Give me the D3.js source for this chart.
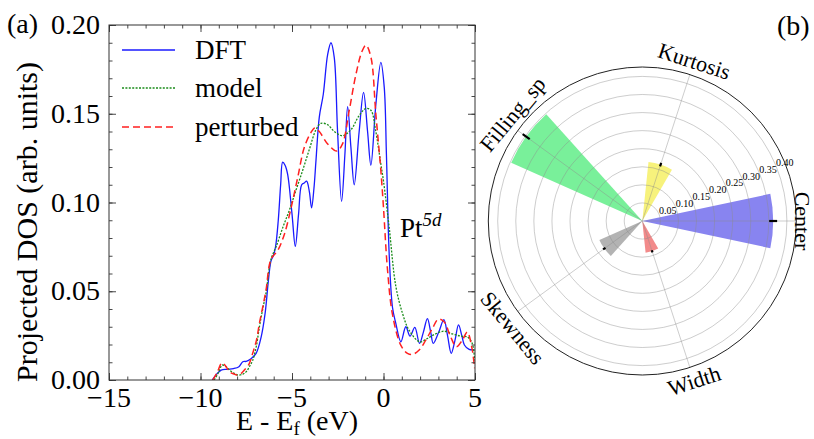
<!DOCTYPE html>
<html>
<head>
<meta charset="utf-8">
<script src="https://cdn.jsdelivr.net/npm/d3@7"></script>
<style>
  html, body { margin: 0; padding: 0; background: #fff; }
  svg text { font-family: "Liberation Serif", "Times New Roman", Times, serif; }
</style>
</head>
<body>
<svg id="fig" width="814" height="439" font-family="Liberation Serif, Times New Roman, serif"></svg>
<script>
// ---- Panel (a): projected DOS of Pt 5d ----
const dftE = [-9.36,-8.87,-8.5,-8.2,-7.9,-7.69,-7.5,-7.24,-6.96,-6.69,-6.47,-6.29,-6.15,-6.02,-5.9,-5.75,-5.62,-5.51,-5.38,-5.24,-5.0,-4.82,-4.64,-4.47,-4.33,-4.2,-4.05,-3.93,-3.8,-3.69,-3.51,-3.29,-3.05,-2.87,-2.69,-2.51,-2.29,-2.11,-1.96,-1.78,-1.6,-1.33,-1.09,-0.87,-0.69,-0.42,-0.145,0.04,0.16,0.31,0.49,0.67,0.95,1.22,1.45,1.71,1.97,2.18,2.4,2.58,2.72,3.02,3.3,3.5,3.7,3.9,4.1,4.28,4.42,4.68,4.98];
const dftDOS = [0,0.0056,0.006,0.0064,0.0075,0.0103,0.0105,0.012,0.015,0.024,0.0375,0.056,0.067,0.070,0.075,0.09,0.11,0.1227,0.121,0.116,0.0936,0.0753,0.0936,0.110,0.111,0.112,0.106,0.097,0.108,0.1236,0.148,0.161,0.1835,0.190,0.1816,0.140,0.1006,0.127,0.154,0.131,0.110,0.140,0.162,0.140,0.121,0.155,0.179,0.165,0.127,0.071,0.041,0.032,0.0215,0.030,0.0247,0.0296,0.0206,0.027,0.0346,0.027,0.0206,0.027,0.034,0.025,0.015,0.022,0.031,0.025,0.0197,0.0172,0.017];

const modelE = [-9.25,-9.0,-8.82,-8.6,-8.42,-8.2,-7.96,-7.7,-7.5,-7.3,-7.15,-6.95,-6.78,-6.6,-6.42,-6.15,-5.87,-5.5,-5.15,-4.78,-4.42,-4.05,-3.69,-3.42,-3.05,-2.69,-2.24,-1.78,-1.33,-0.96,-0.69,-0.42,-0.15,0.0,0.31,0.67,1.04,1.4,1.98,2.4,2.85,3.31,3.76,4.22,4.58,4.85,4.98];
const modelDOS = [0,0.0045,0.0084,0.0075,0.0056,0.004,0.0028,0.0032,0.0047,0.008,0.011,0.019,0.030,0.040,0.049,0.068,0.075,0.086,0.0955,0.107,0.118,0.130,0.141,0.1446,0.1438,0.140,0.1376,0.141,0.149,0.153,0.152,0.140,0.122,0.112,0.086,0.053,0.0375,0.028,0.0215,0.0234,0.026,0.0275,0.026,0.0247,0.0243,0.0206,0.011];

const pertE = [-9.33,-9.1,-8.82,-8.6,-8.42,-8.2,-8.0,-7.8,-7.6,-7.35,-7.15,-6.95,-6.78,-6.6,-6.42,-6.15,-5.78,-5.42,-5.05,-4.69,-4.33,-3.96,-3.75,-3.51,-3.05,-2.55,-2.24,-1.87,-1.51,-1.18,-0.96,-0.69,-0.42,-0.145,0.0,0.22,0.49,0.95,1.31,1.58,1.95,2.31,2.67,3.0,3.31,3.67,3.98,4.31,4.58,4.82,4.98];
const pertDOS = [0,0.004,0.0097,0.0075,0.0047,0.0035,0.0028,0.0035,0.0056,0.009,0.015,0.022,0.032,0.041,0.0506,0.068,0.073,0.082,0.097,0.114,0.131,0.1395,0.142,0.140,0.133,0.129,0.133,0.152,0.172,0.185,0.1886,0.182,0.150,0.118,0.097,0.062,0.037,0.0195,0.015,0.0144,0.0169,0.0225,0.029,0.0343,0.0328,0.0243,0.0187,0.0225,0.027,0.0187,0.0066];

const xMajor = [-15, -10, -5, 0, 5];
const yMajor = [0, 0.05, 0.10, 0.15, 0.20];
const seriesNames = ["DFT", "model", "perturbed"];

// ---- Panel (b): descriptor importances ----
const categories = ["Center", "Kurtosis", "Filling_sp", "Skewness", "Width"];
const importance = [0.362, 0.164, 0.397, 0.130, 0.088];
const importanceErr = [0.011, 0.005, 0.012, 0.004, 0.003];
const barColors = ["#8884f0", "#f7f27c", "#79f09a", "#b3b3b3", "#f28a8a"];
const ringTicks = [0.05, 0.10, 0.15, 0.20, 0.25, 0.30, 0.35, 0.40];
const labelAngleDeg = [0, 72, 140.5, 219.5, 288];

const FONT = "Liberation Serif";
const svg = d3.select("#fig");

// ================= Panel (a) =================
const L = {left: 109, right: 475, top: 25, bottom: 380};
const x = d3.scaleLinear().domain([-15, 5]).range([L.left, L.right]);
const y = d3.scaleLinear().domain([0, 0.2]).range([L.bottom, L.top]);

svg.append("defs").append("clipPath").attr("id", "plotClip")
  .append("rect").attr("x", L.left).attr("y", L.top)
  .attr("width", L.right - L.left).attr("height", L.bottom - L.top);

const line = d3.line().x(d => x(d[0])).y(d => y(d[1])).curve(d3.curveCatmullRom.alpha(0.5));
const zip = (a, b) => a.map((v, i) => [v, b[i]]);

const styles = [
  {color: "#1a1aff", width: 1.3, dash: null},
  {color: "#1a8c1a", width: 1.3, dash: "2,1.4"},
  {color: "#ff2020", width: 1.5, dash: "7,4"}
];
const curves = [zip(dftE, dftDOS), zip(modelE, modelDOS), zip(pertE, pertDOS)];

const plot = svg.append("g").attr("clip-path", "url(#plotClip)");
curves.forEach((c, i) => {
  plot.append("path").datum(c).attr("d", line)
    .attr("fill", "none").attr("stroke", styles[i].color)
    .attr("stroke-width", styles[i].width)
    .attr("stroke-dasharray", styles[i].dash);
});

// axes with inward ticks on all four sides
const xMinor = d3.range(-15, 5.001, 1);
const yMinor = d3.range(0, 0.2001, 0.01);
function tickAxis(axisFn, scale, vals, size, tx, ty) {
  const g = svg.append("g").attr("transform", `translate(${tx},${ty})`)
    .call(axisFn(scale).tickValues(vals).tickSize(size).tickFormat(""));
  g.select(".domain").remove();
  g.selectAll(".tick line").attr("stroke", "#333").attr("stroke-width", 0.9);
  return g;
}
tickAxis(d3.axisBottom, x, xMinor, -3.5, 0, L.bottom);
tickAxis(d3.axisBottom, x, xMajor, -7, 0, L.bottom);
tickAxis(d3.axisTop, x, xMinor, -3.5, 0, L.top);
tickAxis(d3.axisTop, x, xMajor, -7, 0, L.top);
tickAxis(d3.axisLeft, y, yMinor, -3.5, L.left, 0);
tickAxis(d3.axisLeft, y, yMajor, -7, L.left, 0);
tickAxis(d3.axisRight, y, yMinor, -3.5, L.right, 0);
tickAxis(d3.axisRight, y, yMajor, -7, L.right, 0);

svg.append("rect").attr("x", L.left).attr("y", L.top)
  .attr("width", L.right - L.left).attr("height", L.bottom - L.top)
  .attr("fill", "none").attr("stroke", "#333").attr("stroke-width", 1);

// tick labels
svg.append("g").selectAll("text").data(xMajor).join("text")
  .attr("font-family", FONT)
  .attr("x", d => x(d)).attr("y", 407).attr("text-anchor", "middle")
  .attr("font-size", 28).text(d => d < 0 ? "\u2212" + Math.abs(d) : d);
svg.append("g").selectAll("text").data(yMajor).join("text")
  .attr("font-family", FONT)
  .attr("x", 100).attr("y", d => y(d) + 9).attr("text-anchor", "end")
  .attr("font-size", 28).text(d => d3.format(".2f")(d));

// axis titles
const xt = svg.append("text").attr("font-family", FONT).attr("x", 297).attr("y", 430)
  .attr("text-anchor", "middle").attr("font-size", 28);
xt.append("tspan").text("E - E");
xt.append("tspan").attr("font-size", 19).attr("dy", 5).text("f");
xt.append("tspan").attr("dy", -5).text(" (eV)");

svg.append("text").attr("font-family", FONT).attr("transform", "translate(37,222) rotate(-90)")
  .attr("text-anchor", "middle").attr("font-size", 30)
  .text("Projected DOS (arb. units)");

svg.append("text").attr("font-family", FONT).attr("x", 7).attr("y", 33).attr("font-size", 28).text("(a)");

// Pt 5d annotation
const pt = svg.append("text").attr("font-family", FONT).attr("x", 400).attr("y", 237).attr("font-size", 27);
pt.append("tspan").text("Pt");
pt.append("tspan").attr("dy", -11).attr("font-size", 19).attr("font-style", "italic").text("5d");

// legend
const legY = [50, 88, 127];
seriesNames.forEach((name, i) => {
  svg.append("line").attr("x1", 122).attr("x2", 175).attr("y1", legY[i]).attr("y2", legY[i])
    .attr("stroke", styles[i].color).attr("stroke-width", styles[i].width)
    .attr("stroke-dasharray", styles[i].dash);
  svg.append("text").attr("font-family", FONT).attr("x", 195).attr("y", legY[i] + 9)
    .attr("font-size", 27).text(name);
});

// ================= Panel (b) =================
const cx = 642.3, cy = 221, R = 154;
const r = d3.scaleLinear().domain([0, 0.426]).range([0, R]);
const angleDeg = categories.map((c, i) => i * 72);      // counter-clockwise from east
const barWidthDeg = 24;
const toRad = d => d * Math.PI / 180;
const pol = svg.append("g").attr("transform", `translate(${cx},${cy})`);

// bars (d3.arc angles are clockwise from north)
const arc = d3.arc().innerRadius(0);
pol.selectAll("path.bar").data(categories).join("path").attr("class", "bar")
  .attr("d", (c, i) => arc({
    outerRadius: r(importance[i]),
    startAngle: toRad(90 - angleDeg[i] - barWidthDeg / 2),
    endAngle: toRad(90 - angleDeg[i] + barWidthDeg / 2)
  }))
  .attr("fill", (c, i) => barColors[i]);

// grid rings and spokes
pol.selectAll("circle.ring").data(ringTicks).join("circle").attr("class", "ring")
  .attr("r", d => r(d)).attr("fill", "none")
  .attr("stroke", "rgba(140,140,140,0.55)").attr("stroke-width", 0.8);
pol.selectAll("line.spoke").data(angleDeg).join("line").attr("class", "spoke")
  .attr("x1", 0).attr("y1", 0)
  .attr("x2", d => R * Math.cos(toRad(d))).attr("y2", d => -R * Math.sin(toRad(d)))
  .attr("stroke", "rgba(140,140,140,0.55)").attr("stroke-width", 0.8);
pol.append("circle").attr("r", R).attr("fill", "none").attr("stroke", "#222").attr("stroke-width", 1);

// error bars (radial)
pol.selectAll("line.err").data(categories).join("line").attr("class", "err")
  .attr("x1", (c, i) => r(importance[i] - importanceErr[i]) * Math.cos(toRad(angleDeg[i])))
  .attr("y1", (c, i) => -r(importance[i] - importanceErr[i]) * Math.sin(toRad(angleDeg[i])))
  .attr("x2", (c, i) => r(importance[i] + importanceErr[i]) * Math.cos(toRad(angleDeg[i])))
  .attr("y2", (c, i) => -r(importance[i] + importanceErr[i]) * Math.sin(toRad(angleDeg[i])))
  .attr("stroke", "#000").attr("stroke-width", 2.2);

// radial tick labels along 22.5 degrees
pol.selectAll("text.rlab").data(ringTicks).join("text").attr("class", "rlab")
  .attr("font-family", FONT)
  .attr("x", d => r(d) * Math.cos(toRad(22.5)))
  .attr("y", d => -r(d) * Math.sin(toRad(22.5)))
  .attr("font-size", 10).text(d => d3.format(".2f")(d));

// category labels, rotated along the circle
pol.selectAll("text.cat").data(categories).join("text").attr("class", "cat")
  .attr("font-family", FONT)
  .attr("transform", (c, i) => {
    const a = labelAngleDeg[i];
    let rot = 90 - a;
    while (rot > 180) rot -= 360;
    while (rot <= -180) rot += 360;
    if (rot > 90) rot -= 180;
    if (rot < -90) rot += 180;
    const rr = i === 0 ? 160 : 168;
    const px = rr * Math.cos(toRad(a)), py = -rr * Math.sin(toRad(a));
    return `translate(${px},${py}) rotate(${rot})`;
  })
  .attr("text-anchor", "middle").attr("dominant-baseline", "central")
  .attr("font-size", 22).text(c => c);

svg.append("text").attr("font-family", FONT).attr("x", 777).attr("y", 35).attr("font-size", 28).text("(b)");
</script>
</body>
</html>
